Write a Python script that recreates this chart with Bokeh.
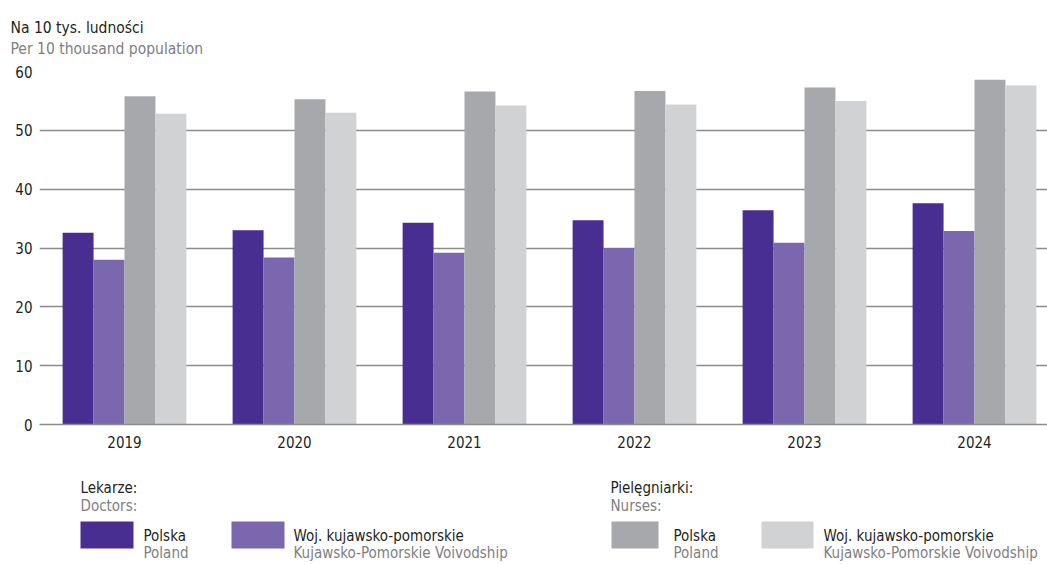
from bokeh.plotting import figure
from bokeh.models import Range1d, FixedTicker, ColumnDataSource, Label
from bokeh.layouts import column
from bokeh.embed import file_html
from bokeh.resources import INLINE
from bokeh.transform import dodge

# ---- data ----
years = ["2019", "2020", "2021", "2022", "2023", "2024"]
doctors_poland = [32.6, 33.0, 34.3, 34.7, 36.4, 37.6]
doctors_kp = [28.0, 28.4, 29.2, 30.0, 30.9, 32.9]
nurses_poland = [55.8, 55.3, 56.6, 56.7, 57.3, 58.6]
nurses_kp = [52.8, 53.0, 54.2, 54.4, 55.0, 57.6]
y_ticks = [0, 10, 20, 30, 40, 50, 60]

title_pl = "Na 10 tys. ludności"
title_en = "Per 10 thousand population"
group_pl = ["Lekarze:", "Pielęgniarki:"]
group_en = ["Doctors:", "Nurses:"]
series_pl = ["Polska", "Woj. kujawsko-pomorskie"]
series_en = ["Poland", "Kujawsko-Pomorskie Voivodship"]

# ---- styles / layout (pixels) ----
FONT = "DejaVu Sans Condensed"
C_TEXT = "#231f20"
C_SUB = "#808080"
C_GRID = "#8c8c8c"
colors = ["#482e91", "#7b67ae", "#a7a8ab", "#d1d2d4"]
W = 1047
H_HEAD, H_MAIN, H_LEG = 60, 400, 104
FL = 39            # frame left
GROUP_PX = 170     # width of one year group in pixels
BAR_W = 0.182


def blank(h):
    f = figure(width=W, height=h, x_range=Range1d(0, W), y_range=Range1d(h, 0),
               x_axis_type=None, y_axis_type=None, output_backend="svg",
               toolbar_location=None, min_border=0, frame_align=False)
    f.grid.visible = False
    f.outline_line_color = None
    return f


def label(f, x, y, text, color, size="15px"):
    f.add_layout(Label(x=x, y=y, text=text, text_font=FONT, text_font_size=size,
                       text_color=color, text_baseline="alphabetic", text_align="left"))


# ---- header ----
head = blank(H_HEAD)
label(head, 10, 27, title_pl, C_TEXT, "15.5px")
label(head, 10, 48, title_en, C_SUB, "15.5px")

# ---- main chart ----
xs = [i + 0.5 for i in range(len(years))]
src = ColumnDataSource(dict(x=xs, dp=doctors_poland, dk=doctors_kp,
                            np_=nurses_poland, nk=nurses_kp))

p = figure(width=W, height=H_MAIN, x_range=Range1d(0, (W - FL) / GROUP_PX),
           y_range=Range1d(0, 60), output_backend="svg", toolbar_location=None,
           min_border_left=FL, min_border_right=0, min_border_top=11,
           min_border_bottom=36, frame_align=False)
p.outline_line_color = None
p.xgrid.visible = False
p.ygrid.grid_line_color = C_GRID
p.ygrid.grid_line_width = 1.5
p.ygrid.ticker = FixedTicker(ticks=y_ticks)

offs = [-1.5 * BAR_W, -0.5 * BAR_W, 0.5 * BAR_W, 1.5 * BAR_W]
for col, off, c in zip(["dp", "dk", "np_", "nk"], offs, colors):
    p.vbar(x=dodge("x", off), top=col, width=BAR_W, bottom=0, source=src,
           fill_color=c, line_color=None)

p.yaxis.ticker = FixedTicker(ticks=y_ticks)
p.yaxis.axis_line_color = None
p.yaxis.major_tick_line_color = None
p.yaxis.minor_tick_line_color = None
p.yaxis.major_tick_out = 0
p.yaxis.major_tick_in = 0
p.yaxis.major_label_text_font = FONT
p.yaxis.major_label_text_font_size = "15px"
p.yaxis.major_label_text_color = C_TEXT
p.yaxis.major_label_standoff = 7

p.xaxis.ticker = FixedTicker(ticks=xs)
p.xaxis.major_label_overrides = {x: y for x, y in zip(xs, years)}
p.xaxis.axis_line_color = C_GRID
p.xaxis.axis_line_width = 1.5
p.xaxis.major_tick_line_color = None
p.xaxis.minor_tick_line_color = None
p.xaxis.major_tick_out = 0
p.xaxis.major_tick_in = 0
p.xaxis.major_label_text_font = FONT
p.xaxis.major_label_text_font_size = "15px"
p.xaxis.major_label_text_color = C_TEXT
p.xaxis.major_label_standoff = 11

# ---- legend ----
leg = blank(H_LEG)
Y0 = H_HEAD + H_MAIN   # page y of the legend's top
group_x = [80, 610]
sw_x0 = [80, 231, 611, 761]
sw_x1 = [133, 284, 658, 813]
txt_x = [143, 293, 673, 823]
for gx, gp, ge in zip(group_x, group_pl, group_en):
    label(leg, gx, 487 - Y0, gp, C_TEXT)
    label(leg, gx, 505 - Y0, ge, C_SUB)
leg.quad(left=sw_x0, right=sw_x1, top=[521 - Y0] * 4, bottom=[548 - Y0] * 4,
         fill_color=colors, line_color=None)
for i in range(4):
    label(leg, txt_x[i], 535 - Y0, series_pl[i % 2], C_TEXT)
    label(leg, txt_x[i], 552 - Y0, series_en[i % 2], C_SUB)

layout = column(head, p, leg, spacing=0)
open("out.html", "w").write(file_html(layout, INLINE))
